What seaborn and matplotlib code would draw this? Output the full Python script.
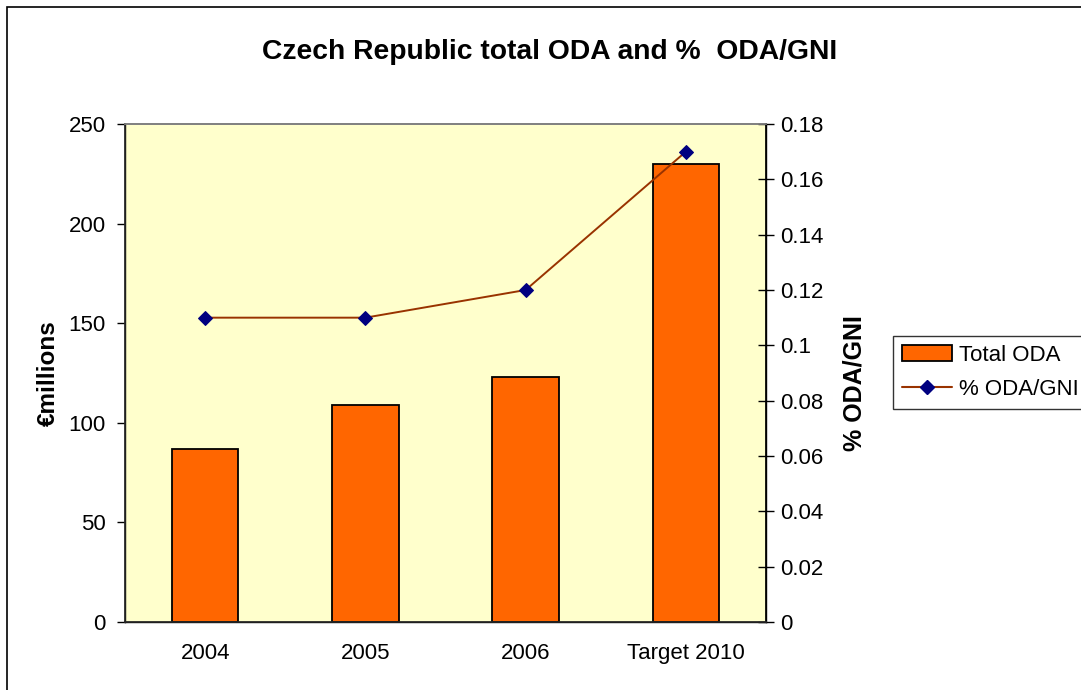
import matplotlib
matplotlib.use('Agg')
import matplotlib.pyplot as plt
import seaborn as sns
import pandas as pd
from matplotlib.lines import Line2D
from matplotlib.patches import Patch, Rectangle

# data
years = ['2004', '2005', '2006', 'Target 2010']
oda_total = [87, 109, 123, 230]
oda_gni = [0.11, 0.11, 0.12, 0.17]

sns.set_theme(style='white')
plt.rcParams['font.family'] = ['Liberation Sans', 'DejaVu Sans']
plt.rcParams['text.color'] = 'black'
plt.rcParams['xtick.color'] = 'black'
plt.rcParams['ytick.color'] = 'black'
plt.rcParams['axes.labelcolor'] = 'black'

df = pd.DataFrame({'year': years, 'oda': oda_total, 'pct': oda_gni})

fig = plt.figure(figsize=(10.81, 6.90), dpi=100)
ax = fig.add_axes([125 / 1081, 1 - 622 / 690, 641 / 1081, 498 / 690])
ax.set_facecolor('#FFFFCC')

sns.barplot(data=df, x='year', y='oda', ax=ax, color='#FF6600',
            edgecolor='black', linewidth=1.3, width=0.415, saturation=1)
ax.set_ylim(0, 250)
ax.set_yticks(range(0, 251, 50))
ax.set_xlim(-0.5, 3.5)
ax.set_xticks([-0.5, 0.5, 1.5, 2.5, 3.5], minor=False)
ax.set_xticklabels([])
ax.set_xticks(range(4), minor=True)
ax.set_xticklabels(years, minor=True)
ax.tick_params(axis='x', which='major', direction='inout', length=14, width=1)
ax.tick_params(axis='x', which='minor', length=0, pad=15, labelsize=16)
ax.tick_params(axis='y', direction='out', length=6, width=1, labelsize=16, pad=8)
ax.set_xlabel('')
ax.set_ylabel('€millions', fontsize=17.5, fontweight='bold')
ax.yaxis.set_label_coords(-0.102, 0.5)

for side in ['left', 'bottom', 'right']:
    ax.spines[side].set_color('black')
    ax.spines[side].set_linewidth(1)
ax.spines['top'].set_color('#808080')

ax2 = ax.twinx()
sns.lineplot(data=df, x='year', y='pct', ax=ax2, color='#993300', linewidth=1.4,
             marker='D', markersize=7.5, markerfacecolor='#000080',
             markeredgecolor='#000080', sort=False)
ax2.set_ylim(0, 0.18)
ax2.set_yticks([0, 0.02, 0.04, 0.06, 0.08, 0.1, 0.12, 0.14, 0.16, 0.18])
ax2.set_yticklabels(['0', '0.02', '0.04', '0.06', '0.08', '0.1', '0.12',
                     '0.14', '0.16', '0.18'])
ax2.tick_params(axis='y', direction='inout', length=12, width=1,
                labelsize=16, pad=4)
ax2.set_ylabel('% ODA/GNI', fontsize=18, fontweight='bold')
ax2.yaxis.set_label_coords(1.120, 0.48)
ax2.spines['right'].set_color('black')
ax2.spines['top'].set_color('#808080')
ax2.set_xlabel('')

fig.suptitle('Czech Republic total ODA and %  ODA/GNI', x=550 / 1081, y=1 - 52 / 690,
             fontsize=20.3, fontweight='bold', va='center')

handles = [Patch(facecolor='#FF6600', edgecolor='black', linewidth=1.3),
           Line2D([0], [0], color='#993300', marker='D', markersize=7.5,
                  markerfacecolor='#000080', markeredgecolor='#000080')]
leg = fig.legend(handles, ['Total ODA', '% ODA/GNI'], loc='upper left',
                 bbox_to_anchor=(893 / 1081, 1 - 336 / 690), fontsize=16,
                 frameon=True, fancybox=False, edgecolor='black',
                 borderpad=0.4, handlelength=2.25, handletextpad=0.3,
                 labelspacing=0.6, borderaxespad=0)
leg.get_frame().set_linewidth(1)

fig.patches.append(Rectangle((7 / 1081, -0.1), 1.2, 1 - 7 / 690 + 0.1,
                             transform=fig.transFigure, fill=False,
                             edgecolor='black', linewidth=1.2))

fig.savefig('out.png', dpi=100)
